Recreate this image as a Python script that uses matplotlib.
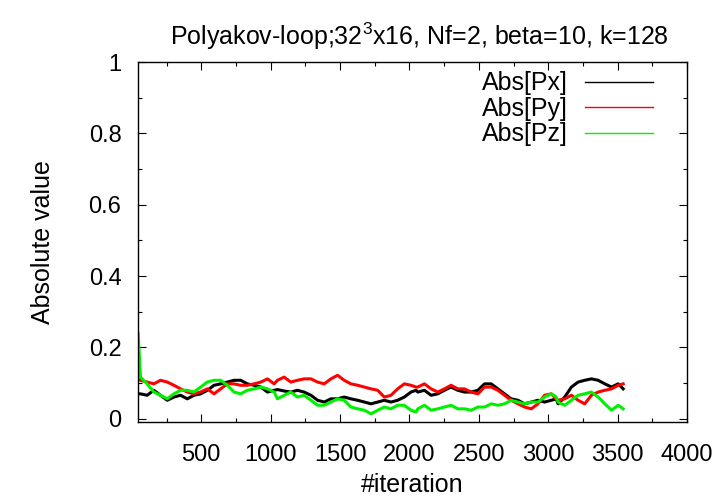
import matplotlib
matplotlib.use("Agg")
import matplotlib.pyplot as plt
from matplotlib.lines import Line2D
from matplotlib.ticker import MultipleLocator

plt.rcParams['font.family'] = ['Liberation Sans', 'DejaVu Sans']
plt.rcParams['mathtext.fontset'] = 'custom'
plt.rcParams['mathtext.rm'] = 'Liberation Sans'

iteration = [45,
             62, 110, 158, 206, 255, 303, 351, 399, 447, 495, 544, 592, 640, 688, 736, 784, 832, 881, 929, 977, 1025,
             1049, 1097, 1145, 1193, 1241, 1290, 1338, 1386, 1434, 1482, 1530, 1578, 1627, 1675, 1723, 1771, 1819, 1867, 1915, 1963, 2011, 2048,
             2060, 2108, 2156, 2204, 2252, 2300, 2348, 2396, 2445, 2493, 2541, 2589, 2637, 2685, 2733, 2782, 2830, 2878, 2926, 2974, 3022, 3058,
             3071, 3119, 3167, 3215, 3263, 3311, 3360, 3408, 3456, 3504, 3540]

abs_px = [0.070,
          0.070, 0.066, 0.080, 0.066, 0.052, 0.061, 0.066, 0.056, 0.066, 0.070, 0.080, 0.094, 0.098, 0.103, 0.108, 0.108, 0.098, 0.094, 0.089, 0.075, 0.080,
          0.082, 0.078, 0.075, 0.080, 0.075, 0.066, 0.052, 0.047, 0.056, 0.056, 0.061, 0.056, 0.052, 0.047, 0.042, 0.047, 0.052, 0.047, 0.052, 0.061, 0.075, 0.080,
          0.075, 0.080, 0.066, 0.070, 0.080, 0.089, 0.080, 0.075, 0.075, 0.080, 0.098, 0.098, 0.084, 0.070, 0.056, 0.052, 0.042, 0.047, 0.052, 0.047, 0.052, 0.056,
          0.042, 0.061, 0.089, 0.103, 0.108, 0.112, 0.108, 0.098, 0.089, 0.098, 0.084]

abs_py = [0.110,
          0.108, 0.103, 0.098, 0.108, 0.103, 0.094, 0.084, 0.075, 0.070, 0.075, 0.084, 0.070, 0.084, 0.098, 0.098, 0.094, 0.094, 0.098, 0.103, 0.112, 0.098,
          0.108, 0.117, 0.103, 0.108, 0.112, 0.112, 0.103, 0.098, 0.112, 0.122, 0.108, 0.098, 0.094, 0.089, 0.084, 0.080, 0.061, 0.066, 0.084, 0.098, 0.094, 0.089,
          0.089, 0.098, 0.084, 0.075, 0.084, 0.094, 0.084, 0.084, 0.075, 0.070, 0.089, 0.089, 0.080, 0.066, 0.052, 0.042, 0.033, 0.028, 0.042, 0.066, 0.070, 0.056,
          0.052, 0.056, 0.066, 0.052, 0.042, 0.066, 0.075, 0.080, 0.084, 0.094, 0.098]

abs_pz = [0.240,
          0.117, 0.098, 0.075, 0.066, 0.056, 0.070, 0.080, 0.080, 0.075, 0.089, 0.103, 0.108, 0.108, 0.094, 0.075, 0.070, 0.080, 0.084, 0.089, 0.084, 0.075,
          0.056, 0.066, 0.075, 0.061, 0.066, 0.052, 0.038, 0.038, 0.047, 0.056, 0.052, 0.033, 0.028, 0.024, 0.014, 0.024, 0.033, 0.028, 0.038, 0.038, 0.024, 0.019,
          0.028, 0.038, 0.024, 0.028, 0.033, 0.038, 0.028, 0.028, 0.024, 0.033, 0.033, 0.042, 0.038, 0.042, 0.052, 0.047, 0.042, 0.047, 0.047, 0.061, 0.070, 0.061,
          0.047, 0.038, 0.052, 0.066, 0.070, 0.075, 0.061, 0.042, 0.024, 0.038, 0.028]

labels = ["Abs[Px]", "Abs[Py]", "Abs[Pz]"]
colors = ["#000000", "#ff0000", "#00f000"]
x_ticks = [500, 1000, 1500, 2000, 2500, 3000, 3500, 4000]
y_ticks = [0, 0.2, 0.4, 0.6, 0.8, 1.0]
y_ticklabels = ["0", "0.2", "0.4", "0.6", "0.8", "1"]

fig = plt.figure(figsize=(7.27, 5.01), dpi=100)
ax = fig.add_axes([0.190, 0.158, 0.755, 0.718])

for vals, c in zip([abs_px, abs_py, abs_pz], colors):
    ax.plot(iteration, vals, color=c, lw=2.2, solid_joinstyle='round')

ax.set_xlim(45, 4000)
ax.set_ylim(-0.0085, 1.0)
ax.set_xticks(x_ticks)
ax.set_yticks(y_ticks)
ax.set_yticklabels(y_ticklabels)
ax.xaxis.set_minor_locator(MultipleLocator(250))
ax.yaxis.set_minor_locator(MultipleLocator(0.1))
ax.tick_params(which='both', direction='in', top=True, right=True, labelsize=17, width=0.8)
ax.tick_params(which='major', length=6)
ax.tick_params(which='minor', length=3)
ax.tick_params(axis='x', which='major', pad=16)
ax.tick_params(axis='y', which='major', pad=12)
for s in ax.spines.values():
    s.set_linewidth(1.0)

ax.set_xlabel("#iteration", fontsize=18, labelpad=5)
ax.set_ylabel("Absolute value", fontsize=18, labelpad=24)
ax.set_title("Polyakov-loop;32$^{\\mathregular{3}}$x16, Nf=2, beta=10, k=128", fontsize=18, pad=12, x=0.513)

handles = [Line2D([], [], color=c, lw=1.0) for c in colors]
ax.legend(handles, labels, loc='upper right', bbox_to_anchor=(0.942, 0.981), frameon=False,
          markerfirst=False, fontsize=18, handlelength=2.72, handletextpad=0.68,
          labelspacing=0.06, borderpad=0.1, borderaxespad=0.0)

fig.savefig("out.png", dpi=100)
